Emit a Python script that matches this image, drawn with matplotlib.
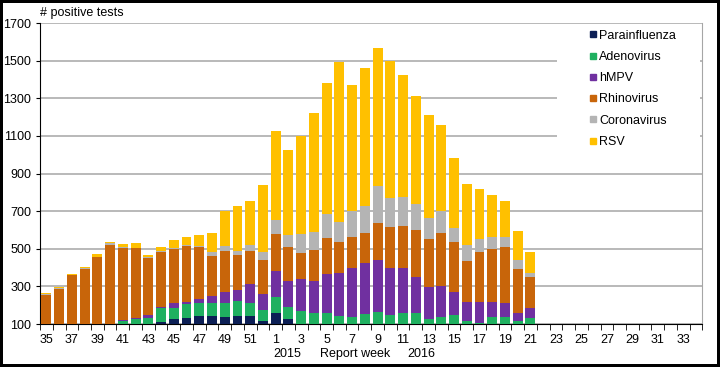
import numpy as np
import matplotlib
matplotlib.use("Agg")
import matplotlib.pyplot as plt
from matplotlib.lines import Line2D
from matplotlib.patches import Rectangle

plt.rcParams["font.family"] = ["Liberation Sans", "DejaVu Sans"]

weeks = list(range(35, 53)) + list(range(1, 35))
series = ["Parainfluenza", "Adenovirus", "hMPV", "Rhinovirus", "Coronavirus", "RSV"]
colors = ["#0c1f55", "#1fb060", "#7030a0", "#c8650a", "#b4b4b4", "#ffc000"]

# values for weeks 35..52 (2015) and 1..21 (2016); later weeks have no data
parainfluenza = [30, 30, 30, 30, 30, 30, 60, 70, 80, 109, 125, 130, 143, 143, 139, 143, 143, 116,
                 160, 125, 90, 90, 90, 90, 90, 90, 90, 90, 90, 90, 90, 90, 90, 90, 90, 90, 90, 90, 90]
adenovirus = [30, 30, 30, 30, 30, 30, 55, 55, 50, 74, 58, 76, 70, 67, 71, 79, 70, 59,
              85, 67, 81, 67, 70, 54, 45, 61, 76, 58, 67, 67, 35, 49, 56, 28, 17, 49, 49, 28, 40]
hmpv = [30, 30, 30, 30, 30, 35, 6, 5, 18, 9, 27, 13, 20, 39, 58, 59, 98, 85,
        139, 139, 167, 174, 206, 229, 265, 272, 275, 248, 239, 195, 174, 163, 125, 101, 112, 80, 75, 42, 53]
rhinovirus = [164, 198, 269, 304, 365, 425, 382, 373, 302, 293, 287, 298, 279, 213, 222, 186, 179, 181,
              195, 181, 142, 163, 193, 165, 163, 161, 197, 222, 227, 248, 252, 284, 264, 218, 262, 280, 294, 234, 165]
coronavirus = [4, 3, 3, 3, 3, 13, 5, 4, 5, 5, 5, 5, 5, 23, 25, 23, 30, 44,
               74, 62, 99, 94, 126, 107, 140, 146, 198, 151, 151, 139, 111, 117, 74, 83, 73, 64, 55, 47, 25]
rsv = [9, 8, 6, 8, 15, 5, 16, 22, 12, 22, 45, 43, 57, 97, 188, 238, 235, 355,
       471, 452, 521, 633, 696, 848, 667, 732, 731, 732, 651, 571, 547, 456, 373, 323, 263, 224, 192, 156, 112]

data = [parainfluenza, adenovirus, hmpv, rhinovirus, coronavirus, rsv]

fig = plt.figure(figsize=(7.2, 3.67), dpi=100)
fig.patch.set_facecolor("white")
fig.patch.set_edgecolor("black")
fig.patch.set_linewidth(3)
ax = fig.add_axes([0.0556, 0.117, 0.920, 0.820])

n = len(weeks)
x = np.arange(n)
bottom = np.zeros(n)
for name, vals, c in zip(series, data, colors):
    v = np.zeros(n)
    v[:len(vals)] = vals
    ax.bar(x, v, bottom=bottom, width=0.78, color=c, edgecolor="none", zorder=3, label=name)
    bottom += v

ax.set_xlim(-0.5, n - 0.5)
ax.set_ylim(100, 1700)
ax.set_yticks(range(100, 1701, 200))
ax.yaxis.grid(True, color="#a6a6a6", linewidth=1.1, zorder=0)
ax.tick_params(axis="y", labelsize=9, length=3, direction="out")

ax.set_xticks(x[::2])
ax.set_xticklabels([str(w) for w in weeks[::2]], fontsize=9)
ax.set_xticks(np.arange(-0.5, n, 1), minor=True)
ax.tick_params(axis="x", which="major", length=0, pad=7)
ax.tick_params(axis="x", which="minor", length=4, direction="out", color="black")

ax.spines["top"].set_visible(False)
ax.spines["right"].set_color("#a6a6a6")
ax.spines["left"].set_color("black")
ax.spines["bottom"].set_color("black")

ax.text(0.0, 1.015, "# positive tests", transform=ax.transAxes, fontsize=9, va="bottom", ha="left")
tr = ax.get_xaxis_transform()
ax.text(18.9, -0.1, "2015", transform=tr, fontsize=9, ha="center", va="center")
ax.text(24.2, -0.1, "Report week", transform=tr, fontsize=9, ha="center", va="center")
ax.text(29.4, -0.1, "2016", transform=tr, fontsize=9, ha="center", va="center")

# white box behind the legend hides the gridlines there
ax.add_patch(Rectangle((0.781, 0.578), 0.215, 0.40, transform=ax.transAxes,
                       facecolor="white", edgecolor="none", zorder=2))

handles = [Line2D([], [], marker="s", linestyle="none", markersize=4.5, color=c) for c in colors]
leg = ax.legend(handles, series, loc="upper left", bbox_to_anchor=(0.826, 0.978), fontsize=9,
                frameon=False, handletextpad=0.05, labelspacing=0.74, borderpad=0,
                borderaxespad=0, handlelength=0.9)
leg.set_zorder(5)

fig.savefig("out.png", dpi=100, facecolor=fig.get_facecolor(), edgecolor=fig.get_edgecolor())
